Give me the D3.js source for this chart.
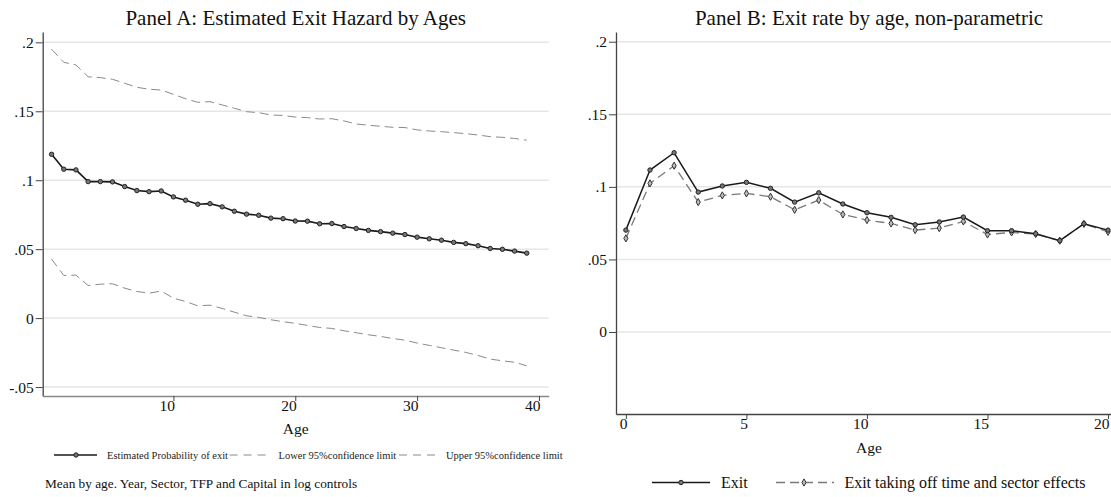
<!DOCTYPE html>
<html>
<head>
<meta charset="utf-8">
<script src="https://cdn.jsdelivr.net/npm/d3@7"></script>
<style>
  body { margin: 0; background: #fff; }
  svg { display: block; }
  svg text { font-family: "Liberation Serif", "Times New Roman", serif; }
</style>
</head>
<body>
<div id="chart"></div>
<script>
// Panel A: estimated exit hazard, ages 0-39
const agesA = [0,1,2,3,4,5,6,7,8,9,10,11,12,13,14,15,16,17,18,19,20,21,22,23,24,25,26,27,28,29,30,31,32,33,34,35,36,37,38,39];
const estProb = [0.1188,0.108,0.1075,0.099,0.099,0.0988,0.0954,0.0925,0.0917,0.0922,0.0879,0.0855,0.0826,0.083,0.0807,0.0775,0.0754,0.0746,0.0725,0.0721,0.0704,0.0703,0.0684,0.0686,0.0664,0.065,0.0636,0.0627,0.0616,0.0606,0.0587,0.0575,0.0565,0.0549,0.054,0.0525,0.0505,0.0499,0.0486,0.0471];
const lowerCI = [0.0428,0.0309,0.0312,0.0236,0.0246,0.0249,0.0217,0.0193,0.0181,0.0196,0.0145,0.012,0.0089,0.0094,0.007,0.0043,0.0017,0.0005,-0.0012,-0.0026,-0.0038,-0.0053,-0.0068,-0.0075,-0.0092,-0.0106,-0.0121,-0.0133,-0.0148,-0.016,-0.0181,-0.0198,-0.0215,-0.0232,-0.0249,-0.0271,-0.0297,-0.031,-0.032,-0.0346];
const upperCI = [0.195,0.1855,0.1836,0.175,0.1744,0.1732,0.1703,0.1674,0.166,0.1654,0.1623,0.1591,0.1565,0.157,0.1546,0.1522,0.1497,0.149,0.1473,0.147,0.1458,0.1454,0.1444,0.1446,0.143,0.1408,0.1399,0.1391,0.1384,0.1382,0.1365,0.1357,0.1352,0.1345,0.1338,0.1328,0.1316,0.1311,0.1303,0.129];
const yTicksA = [-0.05, 0, 0.05, 0.1, 0.15, 0.2];
const xTicksA = [10, 20, 30, 40];

// Panel B: non-parametric exit rate, ages 0-20
const agesB = [0,1,2,3,4,5,6,7,8,9,10,11,12,13,14,15,16,17,18,19,20];
const exitRate = [0.0702,0.1116,0.1235,0.0964,0.1006,0.1031,0.099,0.0895,0.0959,0.0882,0.0822,0.079,0.0739,0.0758,0.0792,0.0698,0.0698,0.0677,0.0629,0.0746,0.0702];
const exitAdj = [0.0645,0.1024,0.1146,0.0895,0.0941,0.0955,0.0932,0.0842,0.0909,0.081,0.0771,0.0748,0.0702,0.0716,0.0762,0.0672,0.0686,0.0675,0.0629,0.0745,0.069];
const yTicksB = [0, 0.05, 0.1, 0.15, 0.2];
const xTicksB = [0, 5, 10, 15, 20];

const W = 1111, H = 497;
const svg = d3.select('#chart').append('svg').attr('width', W).attr('height', H);

// stata style labels: .2 .15 0 -.05
const fmt = (d) => String(+d.toFixed(2)).replace('0.', '.');

function panel(opts) {
  const x = d3.scaleLinear().domain(opts.xDomain).range(opts.xRange);
  const y = d3.scaleLinear().domain(opts.yDomain).range(opts.yRange);
  const g = svg.append('g');

  // gridlines
  g.selectAll('.grid')
    .data(opts.yTicks)
    .enter()
    .append('line')
    .attr('x1', opts.xRange[0])
    .attr('x2', opts.xRange[1])
    .attr('y1', (d) => y(d))
    .attr('y2', (d) => y(d))
    .attr('stroke', '#e6e6e6')
    .attr('stroke-width', 1.5);

  const yAxis = g.append('g')
    .attr('transform', `translate(${opts.xRange[0]},0)`)
    .call(d3.axisLeft(y).tickValues(opts.yTicks).tickFormat(fmt).tickSize(7).tickSizeOuter(0))
    .attr('font-family', null)
    .attr('font-size', 15.5);
  yAxis.select('.domain').attr('stroke', '#444').attr('stroke-width', 1.3);
  yAxis.selectAll('.tick line').attr('stroke', '#444');
  yAxis.selectAll('.tick text')
    .attr('x', -9)
    .attr('fill', '#111');

  const xAxis = g.append('g')
    .attr('transform', `translate(0,${opts.yRange[0]})`)
    .call(d3.axisBottom(x).tickValues(opts.xTicks).tickFormat(d3.format('d')).tickSize(5).tickSizeOuter(0))
    .attr('font-family', null)
    .attr('font-size', 15.5);
  xAxis.select('.domain').attr('stroke', opts.xAxisColor).attr('stroke-width', 1.3);
  xAxis.selectAll('.tick line').attr('stroke', '#444');
  xAxis.selectAll('.tick text')
    .attr('text-anchor', 'end')
    .attr('x', 1)
    .attr('y', 15)
    .attr('dy', 0)
    .attr('fill', '#111');

  // title and axis title
  svg.append('text')
    .attr('x', (opts.xRange[0] + opts.xRange[1]) / 2)
    .attr('y', 25)
    .attr('text-anchor', 'middle')
    .attr('font-size', 21)
    .attr('fill', '#111')
    .text(opts.title);

  svg.append('text')
    .attr('x', (opts.xRange[0] + opts.xRange[1]) / 2)
    .attr('y', opts.xTitleY)
    .attr('text-anchor', 'middle')
    .attr('font-size', 15.5)
    .attr('fill', '#111')
    .text('Age');

  return { x, y, g };
}

function drawLine(p, xs, ys, color, width, dash) {
  const line = d3.line().x((d, i) => p.x(xs[i])).y((d) => p.y(d));
  p.g.append('path')
    .datum(ys)
    .attr('fill', 'none')
    .attr('stroke', color)
    .attr('stroke-width', width)
    .attr('stroke-dasharray', dash)
    .attr('d', line);
}

function drawCircles(p, xs, ys) {
  p.g.selectAll(null)
    .data(ys)
    .enter()
    .append('circle')
    .attr('cx', (d, i) => p.x(xs[i]))
    .attr('cy', (d) => p.y(d))
    .attr('r', 2.2)
    .attr('fill', '#777')
    .attr('stroke', '#222')
    .attr('stroke-width', 1);
}

function drawDiamonds(p, xs, ys) {
  p.g.selectAll(null)
    .data(ys)
    .enter()
    .append('path')
    .attr('d', d3.symbol(d3.symbolDiamond, 15))
    .attr('transform', (d, i) => `translate(${p.x(xs[i])},${p.y(d)})`)
    .attr('fill', '#bbb')
    .attr('stroke', '#333')
    .attr('stroke-width', 1);
}

// ---- Panel A
const pA = panel({
  xDomain: [-0.73, 40.8], xRange: [42.7, 548.7],
  yDomain: [-0.0565, 0.2075], yRange: [396, 32],
  yTicks: yTicksA, xTicks: xTicksA, xAxisColor: '#888',
  title: 'Panel A: Estimated Exit Hazard by Ages', xTitleY: 434
});
drawLine(pA, agesA, upperCI, '#8a8a8a', 1, '9,5');
drawLine(pA, agesA, lowerCI, '#8a8a8a', 1, '9,5');
drawLine(pA, agesA, estProb, '#1a1a1a', 1.6, null);
drawCircles(pA, agesA, estProb);

// ---- Panel B
const pB = panel({
  xDomain: [-0.41, 20.58], xRange: [616, 1122],
  yDomain: [-0.0565, 0.2067], yRange: [414, 32],
  yTicks: yTicksB, xTicks: xTicksB, xAxisColor: '#444',
  title: 'Panel B: Exit rate by age, non-parametric', xTitleY: 453
});
drawLine(pB, agesB, exitAdj, '#7a7a7a', 1.3, '9,5');
drawLine(pB, agesB, exitRate, '#1a1a1a', 1.5, null);
drawDiamonds(pB, agesB, exitAdj);
drawCircles(pB, agesB, exitRate);

// ---- legends
const legA = svg.append('g').attr('font-size', 10.5).attr('fill', '#222');
const legAy = 455;
legA.append('line').attr('x1', 54).attr('x2', 97).attr('y1', legAy).attr('y2', legAy)
  .attr('stroke', '#1a1a1a').attr('stroke-width', 1.6);
legA.append('circle').attr('cx', 76).attr('cy', legAy).attr('r', 2.2)
  .attr('fill', '#777').attr('stroke', '#222');
legA.append('text').attr('x', 107).attr('y', legAy + 3.5).text('Estimated Probability of exit');
legA.append('line').attr('x1', 229.6).attr('x2', 268.5).attr('y1', legAy).attr('y2', legAy)
  .attr('stroke', '#8a8a8a').attr('stroke-width', 1).attr('stroke-dasharray', '8,6');
legA.append('text').attr('x', 278.5).attr('y', legAy + 3.5).text('Lower 95%confidence limit');
legA.append('line').attr('x1', 399).attr('x2', 437).attr('y1', legAy).attr('y2', legAy)
  .attr('stroke', '#8a8a8a').attr('stroke-width', 1).attr('stroke-dasharray', '8,6');
legA.append('text').attr('x', 446).attr('y', legAy + 3.5).text('Upper 95%confidence limit');

svg.append('text')
  .attr('x', 45)
  .attr('y', 488)
  .attr('font-size', 13.3)
  .attr('fill', '#111')
  .text('Mean by age. Year, Sector, TFP and Capital in log controls');

const legB = svg.append('g').attr('font-size', 16).attr('fill', '#111');
const legBy = 482.5;
legB.append('line').attr('x1', 652).attr('x2', 710).attr('y1', legBy).attr('y2', legBy)
  .attr('stroke', '#1a1a1a').attr('stroke-width', 1.5);
legB.append('circle').attr('cx', 681).attr('cy', legBy).attr('r', 2.2)
  .attr('fill', '#777').attr('stroke', '#222');
legB.append('text').attr('x', 721).attr('y', legBy + 5).text('Exit');
legB.append('line').attr('x1', 776).attr('x2', 834).attr('y1', legBy).attr('y2', legBy)
  .attr('stroke', '#7a7a7a').attr('stroke-width', 1.3).attr('stroke-dasharray', '9,5');
legB.append('path').attr('d', d3.symbol(d3.symbolDiamond, 15))
  .attr('transform', `translate(804,${legBy})`)
  .attr('fill', '#bbb').attr('stroke', '#333');
legB.append('text').attr('x', 844.4).attr('y', legBy + 5).text('Exit taking off time and sector effects');
</script>
</body>
</html>
